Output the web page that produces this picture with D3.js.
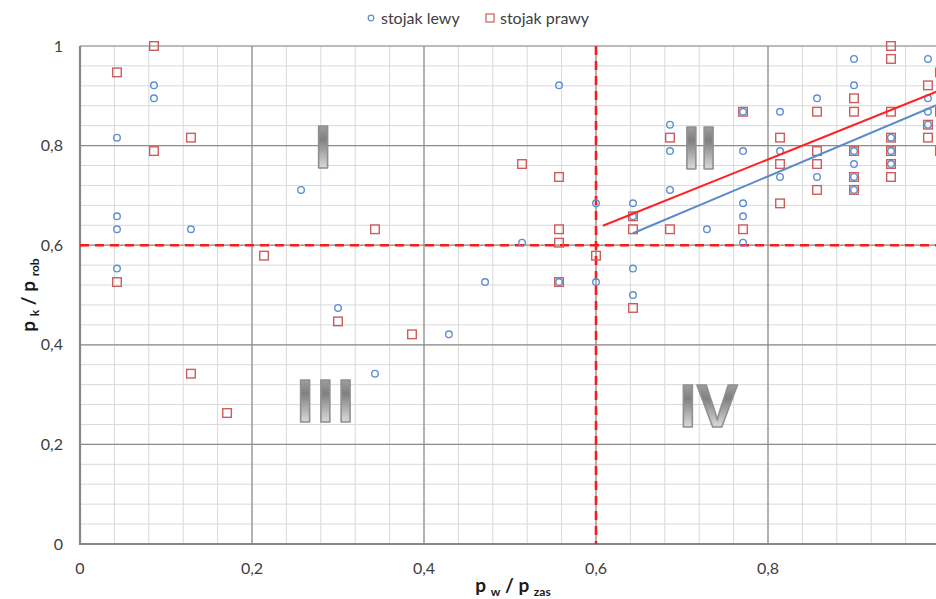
<!DOCTYPE html>
<html>
<head>
<meta charset="utf-8">
<script src="https://cdn.jsdelivr.net/npm/d3@7"></script>
<style>
  html, body { margin: 0; padding: 0; background: #fff; }
  svg { display: block; font-family: Lato, "Open Sans", sans-serif; }
</style>
</head>
<body>
<svg id="chart" width="936" height="599"></svg>
<script>
// ---------- data ----------
const seriesNames = ["stojak lewy", "stojak prawy"];

const lewyX = [0.043,0.043,0.043,0.043, 0.086,0.086, 0.129, 0.257, 0.3, 0.343, 0.429, 0.471, 0.514,
  0.557,0.557, 0.6,0.6, 0.643,0.643,0.643,0.643, 0.686,0.686,0.686, 0.729,
  0.771,0.771,0.771,0.771,0.771, 0.814,0.814,0.814, 0.857,0.857,
  0.9,0.9,0.9,0.9,0.9,0.9, 0.943,0.943,0.943, 0.986,0.986,0.986,0.986];
const lewyY = [0.816,0.658,0.632,0.553, 0.921,0.895, 0.632, 0.711, 0.474, 0.342, 0.421, 0.526, 0.605,
  0.921,0.526, 0.684,0.526, 0.684,0.658,0.553,0.5, 0.842,0.789,0.711, 0.632,
  0.868,0.789,0.684,0.658,0.605, 0.868,0.789,0.737, 0.895,0.737,
  0.974,0.921,0.789,0.763,0.737,0.711, 0.816,0.789,0.763, 0.974,0.895,0.868,0.842];

const prawyX = [0.043,0.043, 0.086,0.086, 0.129,0.129, 0.171, 0.214, 0.3, 0.343, 0.386, 0.514,
  0.557,0.557,0.557,0.557, 0.6, 0.643,0.643,0.643, 0.686,0.686, 0.771,0.771,
  0.814,0.814,0.814, 0.857,0.857,0.857,0.857, 0.9,0.9,0.9,0.9,0.9,
  0.943,0.943,0.943,0.943,0.943,0.943,0.943, 0.986,0.986,0.986, 1.0,1.0,1.0];
const prawyY = [0.947,0.526, 1.0,0.789, 0.816,0.342, 0.263, 0.579, 0.447, 0.632, 0.421, 0.763,
  0.737,0.632,0.605,0.526, 0.579, 0.658,0.632,0.474, 0.816,0.632, 0.868,0.632,
  0.816,0.763,0.684, 0.868,0.789,0.763,0.711, 0.895,0.868,0.789,0.737,0.711,
  1.0,0.974,0.868,0.816,0.789,0.763,0.737, 0.921,0.842,0.816, 0.947,0.868,0.789];

// trend lines (start/end in data units)
const trendLewyX = [0.643, 1.0];
const trendLewyY = [0.624, 0.884];
const trendPrawyX = [0.608, 1.0];
const trendPrawyY = [0.639, 0.911];

// threshold lines
const thresholdX = 0.6;
const thresholdY = 0.6;

// tick labels
const xTicks = [0, 0.2, 0.4, 0.6, 0.8, 1];
const yTicks = [0, 0.2, 0.4, 0.6, 0.8, 1];

// quadrant labels
const quadLabels = ["I", "II", "III", "IV"];
const quadX = [0.2826, 0.721, 0.287, 0.731];
const quadY = [0.755, 0.753, 0.245, 0.235];

// ---------- layout ----------
const svg = d3.select("#chart");
const margin = {left: 80, top: 46};
const plotW = 860, plotH = 498;

const x = d3.scaleLinear().domain([0, 1]).range([margin.left, margin.left + plotW]);
const y = d3.scaleLinear().domain([0, 1]).range([margin.top + plotH, margin.top]);

const fmt = d => d === 0 ? "0" : (d === 1 ? "1" : d3.format(".1f")(d).replace(".", ","));

// gradient for quadrant numerals
const defs = svg.append("defs");
const grad = defs.append("linearGradient").attr("id", "metal")
  .attr("x1", 0).attr("y1", 0).attr("x2", 0).attr("y2", 1);
grad.append("stop").attr("offset", "0%").attr("stop-color", "#bdbdbd");
grad.append("stop").attr("offset", "40%").attr("stop-color", "#808080");
grad.append("stop").attr("offset", "75%").attr("stop-color", "#cdcdcd");
grad.append("stop").attr("offset", "100%").attr("stop-color", "#f6f6f6");

// minor grid
const minor = d3.range(0, 1.0001, 0.04);
const g = svg.append("g");
g.selectAll(".vminor").data(minor).join("line")
  .attr("x1", d => x(d)).attr("x2", d => x(d))
  .attr("y1", y(0)).attr("y2", y(1))
  .attr("stroke", "#d9d9d9").attr("stroke-width", 1);
g.selectAll(".hminor").data(minor).join("line")
  .attr("x1", x(0)).attr("x2", x(1))
  .attr("y1", d => y(d)).attr("y2", d => y(d))
  .attr("stroke", "#d9d9d9").attr("stroke-width", 1);

// major grid
g.selectAll(".vmajor").data(xTicks).join("line")
  .attr("x1", d => x(d)).attr("x2", d => x(d))
  .attr("y1", y(0)).attr("y2", y(1))
  .attr("stroke", "#8c8c8c").attr("stroke-width", 1.2);
g.selectAll(".hmajor").data(yTicks).join("line")
  .attr("x1", x(0)).attr("x2", x(1))
  .attr("y1", d => y(d)).attr("y2", d => y(d))
  .attr("stroke", "#8c8c8c").attr("stroke-width", 1.2);

// axes lines
svg.append("line").attr("x1", x(0)).attr("x2", x(0)).attr("y1", y(0)+1).attr("y2", y(1))
  .attr("stroke", "#878787").attr("stroke-width", 2.2);
svg.append("line").attr("x1", x(0)-1).attr("x2", x(1)).attr("y1", y(0)).attr("y2", y(0))
  .attr("stroke", "#878787").attr("stroke-width", 2.2);

// tick labels
svg.selectAll(".ylab").data(yTicks).join("text")
  .attr("x", 63).attr("y", d => y(d)).attr("dy", "0.35em")
  .attr("text-anchor", "end").attr("font-size", 16).attr("fill", "#404040")
  .text(fmt);
svg.selectAll(".xlab").data(xTicks).join("text")
  .attr("x", d => x(d)).attr("y", 574)
  .attr("text-anchor", "middle").attr("font-size", 16).attr("fill", "#404040")
  .text(fmt);

// quadrant numerals
svg.selectAll(".quad").data(quadLabels).join("text")
  .attr("x", (d, i) => x(quadX[i])).attr("y", (d, i) => y(quadY[i]))
  .attr("text-anchor", "middle")
  .attr("font-family", "'Liberation Sans', Arial, sans-serif")
  .attr("font-weight", "bold").attr("font-size", 62)
  .attr("letter-spacing", (d) => d === "III" ? 3 : 0)
  .attr("fill", "url(#metal)").attr("stroke", "#909090").attr("stroke-width", 1.6)
  .attr("stroke-linejoin", "round")
  .text(d => d);

// threshold dashed lines
svg.append("line").attr("x1", x(thresholdX)).attr("x2", x(thresholdX))
  .attr("y1", y(1)).attr("y2", y(0))
  .attr("stroke", "#ff1a1a").attr("stroke-width", 2.6).attr("stroke-dasharray", "9,6");
svg.append("line").attr("x1", x(0)).attr("x2", x(1))
  .attr("y1", y(thresholdY)).attr("y2", y(thresholdY))
  .attr("stroke", "#ff1a1a").attr("stroke-width", 2.6).attr("stroke-dasharray", "9,6");

// points
const lewy = lewyX.map((v, i) => [v, lewyY[i]]);
const prawy = prawyX.map((v, i) => [v, prawyY[i]]);

svg.append("g").selectAll("rect").data(prawy).join("rect")
  .attr("x", d => x(d[0]) - 4.3).attr("y", d => y(d[1]) - 4.3)
  .attr("width", 8.6).attr("height", 8.6)
  .attr("fill", "none").attr("stroke", "#cd5c5c").attr("stroke-width", 1.4);

svg.append("g").selectAll("circle").data(lewy).join("circle")
  .attr("cx", d => x(d[0])).attr("cy", d => y(d[1])).attr("r", 3.3)
  .attr("fill", "none").attr("stroke", "#5e8fd3").attr("stroke-width", 1.4);

// trend lines
const line = d3.line().x(d => x(d[0])).y(d => y(d[1]));
svg.append("path").datum(trendPrawyX.map((v, i) => [v, trendPrawyY[i]]))
  .attr("d", line).attr("stroke", "#ff2222").attr("stroke-width", 2).attr("fill", "none");
svg.append("path").datum(trendLewyX.map((v, i) => [v, trendLewyY[i]]))
  .attr("d", line).attr("stroke", "#5b8bcb").attr("stroke-width", 2).attr("fill", "none");

// axis titles
const xt = svg.append("text").attr("x", 513).attr("y", 592).attr("text-anchor", "middle")
  .attr("font-weight", "bold").attr("fill", "#1a1a1a").attr("font-size", 19);
xt.append("tspan").text("p ");
xt.append("tspan").attr("font-size", 12).attr("dy", 4).text("w");
xt.append("tspan").attr("dy", -4).text(" / p ");
xt.append("tspan").attr("font-size", 12).attr("dy", 4).text("zas");

const yt = svg.append("text").attr("transform", "translate(35,295) rotate(-90)")
  .attr("text-anchor", "middle")
  .attr("font-weight", "bold").attr("fill", "#1a1a1a").attr("font-size", 19);
yt.append("tspan").text("p ");
yt.append("tspan").attr("font-size", 12).attr("dy", 4).text("k");
yt.append("tspan").attr("dy", -4).text(" / p ");
yt.append("tspan").attr("font-size", 12).attr("dy", 4).text("rob");

// legend
const leg = svg.append("g").attr("font-size", 16).attr("fill", "#404040");
leg.append("circle").attr("cx", 371).attr("cy", 18).attr("r", 2.8)
  .attr("fill", "none").attr("stroke", "#5e8fd3").attr("stroke-width", 1.2);
leg.append("text").attr("x", 381).attr("y", 18).attr("dy", "0.35em").text(seriesNames[0]);
leg.append("rect").attr("x", 486).attr("y", 14).attr("width", 8).attr("height", 8)
  .attr("fill", "none").attr("stroke", "#cd5c5c").attr("stroke-width", 1.2);
leg.append("text").attr("x", 500).attr("y", 18).attr("dy", "0.35em").text(seriesNames[1]);
</script>
</body>
</html>
